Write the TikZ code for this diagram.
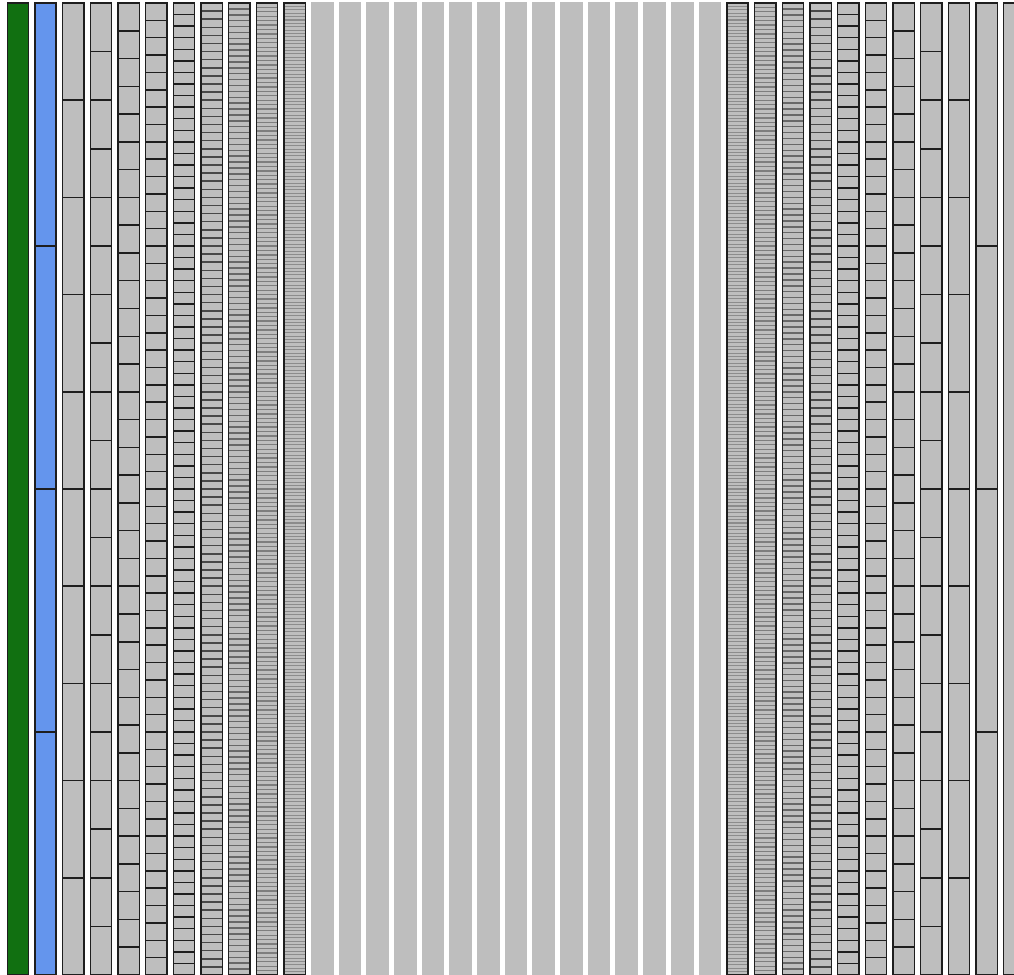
\documentclass[tikz,border=0pt]{standalone}
\definecolor{colgreen}{RGB}{17,112,17}
\definecolor{colblue}{RGB}{100,149,237}
\definecolor{colgray}{RGB}{190,190,190}
\definecolor{cellline}{RGB}{30,30,30}
\begin{document}
\begin{tikzpicture}[x=1pt,y=-1pt,
  cellborder/.style={draw=cellline,line width=1.4pt},
  cellsplit/.style={draw=cellline,line width=1.5pt},
  plaincol/.style={fill=colgray}]
\useasboundingbox (0,0) rectangle (1014,974);
\clip (0,0) rectangle (1014,974);
\foreach \k in {0,...,36}{
  \pgfmathtruncatemacro{\i}{min(\k,36-\k)}
  \pgfmathsetmacro{\xl}{7.2+27.68*\k}
  \pgfmathsetmacro{\xr}{\xl+21.3}
  \ifnum\k=0 \def\fc{colgreen}\else\ifnum\k=1 \def\fc{colblue}\else\def\fc{colgray}\fi\fi
  \ifnum\i>10
    \pgfmathsetmacro{\xa}{\xl-0.7}
    \pgfmathsetmacro{\xb}{\xr+0.7}
    \fill[plaincol] (\xa,2.3) rectangle (\xb,980);
  \else
    \pgfmathtruncatemacro{\n}{(\i+1)*(\i+2)*(\i+3)/6}
    \pgfmathsetmacro{\dy}{972/\n}
    \pgfmathsetmacro{\op}{min(1,\dy/11)}
    \pgfmathsetmacro{\lw}{min(1.5,0.3*\dy)}
    \filldraw[cellborder,fill=\fc] (\xl,3) rectangle (\xr,975);
    \ifnum\n>1
      \pgfmathtruncatemacro{\nm}{\n-1}
      \foreach \j in {1,...,\nm}{
        \pgfmathsetmacro{\yy}{3+\dy*\j}
        \draw[cellsplit,line width=\lw pt,draw opacity=\op] (\xl,\yy) -- (\xr,\yy);
      }
    \fi
  \fi
}
\end{tikzpicture}
\end{document}
